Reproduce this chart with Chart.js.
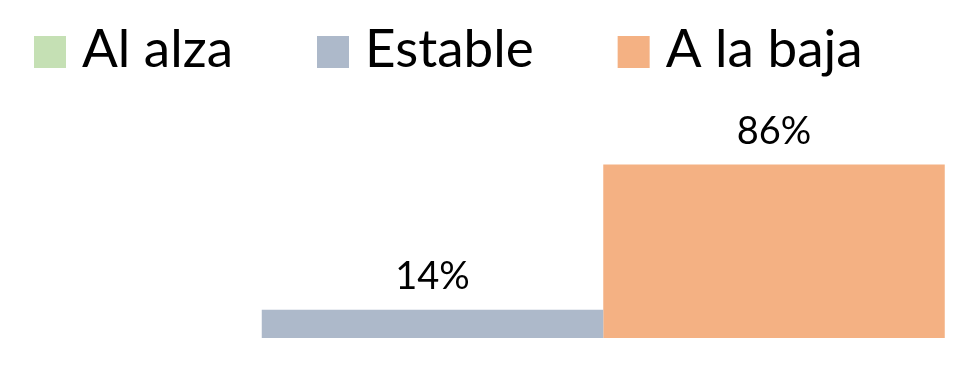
<!DOCTYPE html>
<html>
<head>
<meta charset="utf-8">
<script src="https://cdn.jsdelivr.net/npm/chart.js@4"></script>
<style>
  html, body { margin: 0; padding: 0; background: #fff; }
  #wrap { width: 980px; height: 366px; }
</style>
</head>
<body>
<div id="wrap"><canvas id="chart"></canvas></div>
<script>
const seriesNames = ['Al alza', 'Estable', 'A la baja'];
const seriesValues = [0, 14, 86];
const seriesColors = ['#C5E0B4', '#ADB9CA', '#F4B183'];
const positions = [0, 1, 2];

// leyenda dibujada a mano arriba (cuadro + texto)
const topLegend = {
    id: 'topLegend',
    afterDraw(chart) {
        const ctx = chart.ctx;
        ctx.save();
        ctx.font = '53px Lato';
        ctx.textBaseline = 'alphabetic';
        ctx.textAlign = 'left';
        let x = 34;
        chart.data.datasets.forEach(ds => {
            ctx.fillStyle = ds.backgroundColor;
            ctx.fillRect(x, 36, 32, 32);
            ctx.fillStyle = '#000';
            ctx.fillText(ds.label, x + 48, 67);
            x += 48 + ctx.measureText(ds.label).width + 84;
        });
        ctx.restore();
    }
};

// etiquetas de porcentaje encima de cada barra
const valueLabels = {
    id: 'valueLabels',
    afterDatasetsDraw(chart) {
        const ctx = chart.ctx;
        ctx.save();
        ctx.font = '38px Lato';
        ctx.fillStyle = '#000';
        ctx.textAlign = 'center';
        ctx.textBaseline = 'alphabetic';
        chart.data.datasets.forEach((ds, i) => {
            const meta = chart.getDatasetMeta(i);
            meta.data.forEach((bar, j) => {
                const v = ds.data[j].y;
                if (!v) return;
                ctx.fillText(`${v}%`, bar.x, bar.y - 21);
            });
        });
        ctx.restore();
    }
};

const datasets = seriesNames.map((name, i) => ({
    label: name,
    data: [{ x: positions[i], y: seriesValues[i] }],
    backgroundColor: seriesColors[i],
    borderWidth: 0,
    inflateAmount: 0,
    grouped: false,
    categoryPercentage: 1,
    barPercentage: 1
}));

new Chart(document.getElementById('chart').getContext('2d'), {
    type: 'bar',
    data: { datasets: datasets },
    options: {
        responsive: true,
        maintainAspectRatio: false,
        animation: false,
        layout: { padding: { top: 90, bottom: 28, left: 0, right: 0 } },
        scales: {
            x: {
                type: 'linear',
                min: -0.2665,
                max: 2.6032,
                offset: false,
                display: false,
                grid: { display: false },
                ticks: { stepSize: 1, includeBounds: false }
            },
            y: {
                min: 0,
                max: 123,
                display: false,
                grid: { display: false }
            }
        },
        plugins: {
            legend: { display: false },
            tooltip: { enabled: false }
        }
    },
    plugins: [topLegend, valueLabels]
});
</script>
</body>
</html>
